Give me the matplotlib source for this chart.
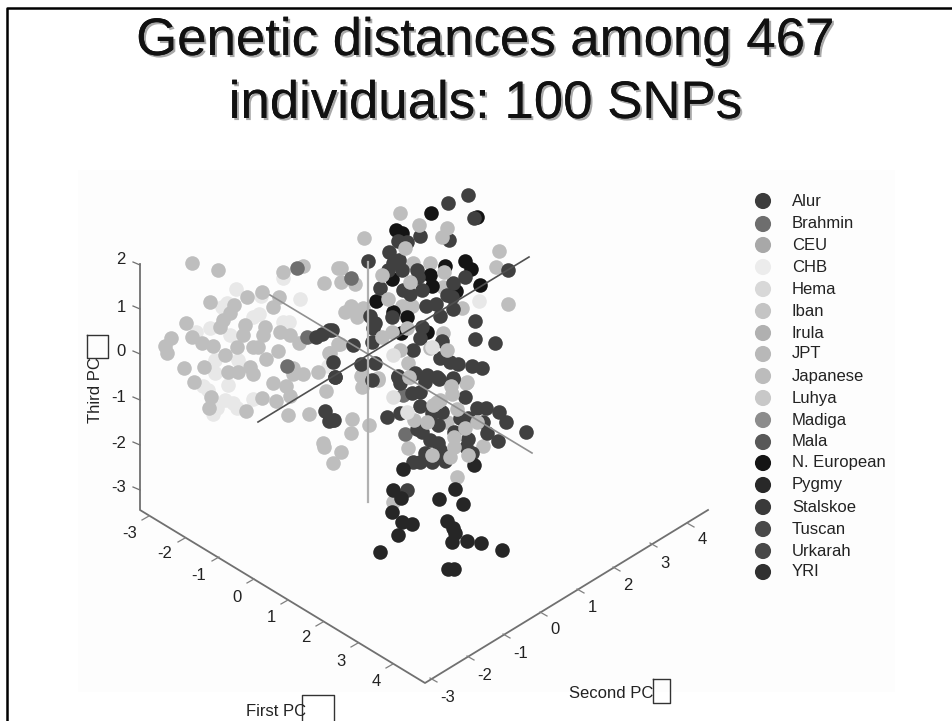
import matplotlib
matplotlib.use("Agg")
import matplotlib.pyplot as plt
import matplotlib.patheffects as pe

# scatter positions, x and y per shade group
pale_x = [236, 283, 300, 261, 222, 227, 253, 259, 210, 196, 230, 283, 289, 238, 215, 215, 228, 203, 208, 225, 233, 237, 217, 213, 253, 328, 479]
pale_y = [289, 278, 299, 296, 307, 303, 317, 314, 328, 332, 335, 322, 322, 360, 360, 373, 385, 386, 390, 400, 403, 408, 408, 414, 399, 366, 301]

mid_x = [192, 218, 283, 303, 324, 338, 210, 247, 279, 262, 234, 186, 171, 165, 167, 192, 202, 213, 223, 220, 230, 245, 243, 265, 263, 273, 280, 290, 299, 237, 225, 253, 258, 278, 266, 184, 204, 228, 238, 250, 253, 293, 303, 293, 318, 194, 211, 273, 286, 290, 262, 276, 246, 288, 309, 326, 209, 329, 338, 323, 324, 352, 369, 351, 341, 333,
         400, 364, 499, 496, 413, 430, 341, 341, 355, 508, 462, 351, 345, 357, 363, 402, 412, 443, 443, 340, 330, 408, 362, 378, 410, 467, 408, 483, 457, 393, 362, 361, 378, 466, 447]
mid_y = [263, 270, 272, 266, 283, 268, 302, 297, 297, 292, 305, 323, 338, 346, 353, 337, 343, 346, 320, 327, 313, 325, 335, 327, 335, 307, 332, 335, 343, 347, 355, 347, 347, 351, 359, 368, 367, 372, 372, 367, 374, 368, 374, 374, 372, 382, 397, 383, 386, 396, 398, 401, 411, 415, 414, 391, 408, 353, 344, 443, 447, 419, 425, 433, 452, 463,
         213, 238, 251, 267, 263, 263, 268, 282, 284, 304, 308, 306, 312, 317, 308, 306, 306, 287, 333, 344, 353, 363, 375, 378, 377, 382, 448, 446, 477, 502, 387, 376, 380, 383, 422]

# light points that sit on top of the dark ones
front_x = [419, 447, 442, 405, 444, 382, 410, 388, 407, 392, 382, 447, 430, 400, 409, 427, 414, 437, 440, 433, 451, 452, 457, 477, 465, 454, 454, 432, 450, 468]
front_y = [225, 228, 237, 248, 272, 275, 282, 299, 328, 332, 337, 350, 348, 350, 377, 422, 420, 402, 400, 405, 386, 394, 409, 422, 428, 437, 447, 455, 457, 455]

front_pale_x = [393, 432, 393, 407]
front_pale_y = [355, 347, 397, 412]

brahmin_x = [307, 297, 287, 405, 403, 333, 351]
brahmin_y = [337, 268, 366, 434, 395, 420, 278]

dark_x = [329, 322, 316, 325, 334, 329, 335, 333, 468, 448, 474, 420, 449, 398, 407, 389, 368, 399, 393, 402, 388, 417, 418, 465, 508, 453, 380, 403, 410, 422, 447, 452, 436, 426, 453, 440, 475, 475, 495, 370, 392, 375, 373, 422, 420, 442, 413, 372, 353, 332, 361, 375, 440, 450, 458, 472, 482, 427, 437, 453, 415, 398, 335, 372, 400, 398, 427, 425, 439, 453, 412, 420, 465, 420, 387, 400, 432, 442, 477, 486, 499, 506, 460, 468, 483, 438, 417, 422, 526, 487, 498, 430, 438, 440, 454, 468, 466, 472, 425, 413, 420, 432, 445, 407]
dark_y = [330, 334, 337, 411, 420, 421, 377, 362, 195, 203, 218, 236, 240, 241, 242, 252, 261, 260, 263, 270, 270, 270, 277, 277, 270, 283, 288, 290, 294, 290, 295, 297, 304, 306, 309, 316, 321, 339, 343, 316, 317, 323, 328, 327, 338, 341, 350, 342, 345, 330, 364, 363, 358, 362, 364, 366, 368, 375, 377, 378, 373, 377, 377, 380, 383, 376, 376, 382, 379, 379, 393, 392, 397, 406, 417, 413, 413, 412, 408, 408, 412, 422, 418, 418, 422, 425, 429, 432, 432, 433, 441, 440, 443, 450, 432, 439, 447, 453, 453, 462, 462, 462, 461, 490]

black_x = [431, 396, 402, 477, 465, 471, 445, 430, 392, 432, 456, 480, 376, 407, 393, 401, 427]
black_y = [213, 230, 233, 217, 261, 269, 266, 275, 279, 286, 291, 285, 301, 317, 312, 333, 332]

pygmy_x = [403, 474, 393, 401, 455, 439, 463, 392, 402, 412, 447, 398, 453, 455, 452, 467, 481, 502, 380, 448, 454]
pygmy_y = [469, 465, 490, 498, 489, 499, 504, 512, 522, 524, 521, 535, 528, 533, 542, 541, 543, 550, 552, 569, 569]

legend_names = ["Alur", "Brahmin", "CEU", "CHB", "Hema", "Iban", "Irula", "JPT", "Japanese",
                "Luhya", "Madiga", "Mala", "N. European", "Pygmy", "Stalskoe", "Tuscan", "Urkarah", "YRI"]
legend_grey = ["#3c3c3c", "#6e6e6e", "#a8a8a8", "#ececec", "#d8d8d8", "#c4c4c4", "#b0b0b0", "#b8b8b8", "#bcbcbc",
               "#c8c8c8", "#8c8c8c", "#585858", "#141414", "#282828", "#3a3a3a", "#4a4a4a", "#484848", "#303030"]
legend_y = [201, 224, 245, 267, 289, 311, 333, 354, 376, 398, 420, 442, 463, 485, 507, 529, 551, 572]

first_ticks = ["-3", "-2", "-1", "0", "1", "2", "3", "4"]
first_tick_x = [149, 185, 219, 254, 288, 323, 358, 393]
first_tick_y = [516, 538, 557, 579, 600, 622, 643, 664]
first_label_x = [130, 165, 199, 237, 271, 306, 341, 376]
first_label_y = [533, 553, 575, 597, 617, 638, 661, 682]

second_ticks = ["-3", "-2", "-1", "0", "1", "2", "3", "4"]
second_tick_x = [430, 467, 503, 540, 577, 613, 650, 687]
second_tick_y = [678, 656, 634, 612, 589, 567, 543, 523]
second_label_x = [448, 485, 521, 555, 592, 628, 665, 702]
second_label_y = [698, 675, 653, 630, 608, 585, 563, 540]

third_ticks = ["2", "1", "0", "-1", "-2", "-3"]
third_tick_y = [265, 309, 354, 400, 445, 490]
third_label_y = [260, 307, 352, 398, 443, 488]

plt.rcParams["font.family"] = ["Liberation Sans", "DejaVu Sans"]

fig = plt.figure(figsize=(9.53, 7.21), dpi=100)
ax = fig.add_axes([0, 0, 1, 1])
ax.set_xlim(0, 953)
ax.set_ylim(721, 0)
ax.axis("off")

# slide frame, only left and top show
ax.plot([7, 7, 953], [721, 8, 8], color="black", lw=1.8)

# faint backdrop of the pasted plot
ax.fill_between([78, 895], [170, 170], [692, 692], color="#fdfdfd", lw=0)

# title with offset shadow
shadow = [pe.withSimplePatchShadow(offset=(1.5, -1.5), shadow_rgbFace="#a8a8a8", alpha=1), pe.Normal()]
title_lines = ["Genetic distances among 467", "individuals: 100 SNPs"]
title_y = [41, 104]
for line, y in zip(title_lines, title_y):
    ax.text(485, y, line, fontsize=38, color="#111111", ha="center", va="center", path_effects=shadow)

# box frame
ax.plot([140, 140, 425, 708], [264, 510, 683, 510], color="#707070", lw=1.3)

for x, y in zip(first_tick_x, first_tick_y):
    ax.plot([x, x - 7], [y, y + 4], color="#808080", lw=0.9)
for x, y in zip(second_tick_x, second_tick_y):
    ax.plot([x, x + 7], [y, y + 4], color="#808080", lw=0.9)
for y in third_tick_y:
    ax.plot([140, 133], [y, y - 3], color="#707070", lw=0.9)

for lab, x, y in zip(first_ticks, first_label_x, first_label_y):
    ax.text(x, y, lab, fontsize=12, color="#222222", ha="center", va="center")
for lab, x, y in zip(second_ticks, second_label_x, second_label_y):
    ax.text(x, y, lab, fontsize=12, color="#222222", ha="center", va="center")
for lab, y in zip(third_ticks, third_label_y):
    ax.text(126, y, lab, fontsize=12, color="#222222", ha="right", va="center")

# PC lines through the cloud
ax.plot([368, 368], [262, 502], color="#b0b0b0", lw=1.6)
ax.plot([270, 532], [295, 453], color="#909090", lw=1.2)
ax.plot([258, 529], [422, 257], color="#505050", lw=1.2)

size = 110
ax.scatter(pale_x, pale_y, s=size, c="#e8e8e8", linewidths=0)
ax.scatter(mid_x, mid_y, s=size, c="#bebebe", linewidths=0)
ax.scatter(brahmin_x, brahmin_y, s=size, c="#6e6e6e", linewidths=0)
ax.scatter(black_x, black_y, s=size, c="#141414", linewidths=0)
ax.scatter(dark_x, dark_y, s=size, c="#404040", linewidths=0)
ax.scatter(pygmy_x, pygmy_y, s=size, c="#262626", linewidths=0)
ax.scatter(front_x, front_y, s=size, c="#bcbcbc", linewidths=0)
ax.scatter(front_pale_x, front_pale_y, s=size, c="#e0e0e0", linewidths=0)

# legend drawn by hand, same as the chart
ax.scatter([763] * len(legend_y), legend_y, s=135, c=legend_grey, linewidths=0)
for name, y in zip(legend_names, legend_y):
    ax.text(792, y, name, fontsize=12, color="#222222", ha="left", va="center")

# axis labels and empty glyph boxes
ax.text(96, 390, "Third PC", fontsize=12, color="#222222", rotation=90, ha="center", va="center")
ax.text(246, 712, "First PC", fontsize=12, color="#222222", ha="left", va="center")
ax.text(569, 693, "Second PC", fontsize=12, color="#222222", ha="left", va="center")

ax.plot([87, 108, 108, 87, 87], [335, 335, 358, 358, 335], color="#333333", lw=1)
ax.plot([302, 302, 334, 334], [721, 695, 695, 721], color="#333333", lw=1)
ax.plot([653, 670, 670, 653, 653], [679, 679, 703, 703, 679], color="#333333", lw=1)

fig.savefig("out.png", dpi=100)
